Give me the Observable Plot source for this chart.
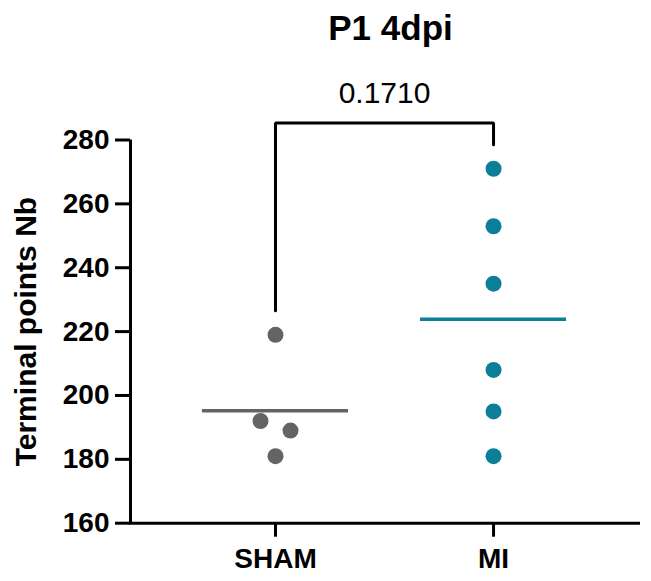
<!DOCTYPE html>
<html>
<head>
<meta charset="utf-8">
<script src="https://cdn.jsdelivr.net/npm/d3@7"></script>
<script src="https://cdn.jsdelivr.net/npm/@observablehq/plot@0.6"></script>
<style>
  html, body { margin: 0; padding: 0; background: #fff; }
  #chart svg { display: block; }
  #chart svg text { font-family: "Liberation Sans", Arial, sans-serif; }
</style>
</head>
<body>
<div id="chart"></div>
<script>
// ---- data ----
const groups = ["SHAM", "MI"];
const colors = ["#646464", "#0a7f97"];
const shamValues = [219, 192, 189, 181];
const miValues = [271, 253, 235, 208, 195, 181];
const yTicks = [160, 180, 200, 220, 240, 260, 280];
const title = "P1 4dpi";
const yLabel = "Terminal points Nb";
const pValue = "0.1710";
const bracketLevel = 285.3;   // top of significance bracket
const bracketLegs = [226.5, 278.5]; // bottom of left / right legs

// ---- derived ----
const series = [shamValues, miValues];
const pxPerUnit = 383.2 / 120;
const dotR = 8;
const collide = (2 * dotR) / pxPerUnit;   // value distance at which dots overlap
const spread = 30 / 218;                  // horizontal spacing for overlapping dots (x units)

const points = [];
series.forEach((vals, gi) => {
  const sorted = [...vals].sort((a, b) => b - a);
  const clusters = [];
  sorted.forEach(v => {
    const last = clusters[clusters.length - 1];
    if (last && last[last.length - 1] - v < collide) last.push(v);
    else clusters.push([v]);
  });
  clusters.forEach(c => {
    c.forEach((v, k) => {
      const off = (k - (c.length - 1) / 2) * spread;
      points.push({group: groups[gi], gi, v, x: gi + off});
    });
  });
});

const means = series.map((vals, gi) => ({group: groups[gi], gi, mean: d3.mean(vals)}));

const bracket = [
  {x: 0, y: bracketLegs[0]},
  {x: 0, y: bracketLevel},
  {x: 1, y: bracketLevel},
  {x: 1, y: bracketLegs[1]}
];

const xDomain = [-0.665, 1.674];
const halfW = 0.335;

const chart = Plot.plot({
  width: 651,
  height: 581,
  marginTop: 139.5,
  marginBottom: 58.3,
  marginLeft: 130,
  marginRight: 11,
  style: {fontFamily: "Liberation Sans, Arial, sans-serif", background: "#fff", color: "#000"},
  x: {domain: xDomain},
  y: {domain: [160, 280]},
  color: {domain: groups, range: colors},
  marks: [
    Plot.axisY({ticks: yTicks, tickSize: 15, tickPadding: 6, strokeWidth: 3, fontSize: 28, fontWeight: "bold", label: null}),
    Plot.axisX({ticks: [0, 1], tickFormat: d => groups[d], tickSize: 14, tickPadding: 11, strokeWidth: 3, fontSize: 28, fontWeight: "bold", label: null}),
    Plot.ruleX([xDomain[0]], {y1: 160, y2: 280, stroke: "#000", strokeWidth: 3}),
    Plot.ruleY([160], {x1: xDomain[0] - 0.005, x2: xDomain[1], stroke: "#000", strokeWidth: 3}),
    Plot.line(bracket, {x: "x", y: "y", stroke: "#000", strokeWidth: 3, strokeLinejoin: "miter", curve: "linear"}),
    Plot.text([pValue], {x: 0.5, y: bracketLevel, text: d => d, dy: -30, fontSize: 30, textAnchor: "middle", lineAnchor: "middle", fill: "#000"}),
    Plot.text([title], {frameAnchor: "top", text: d => d, dx: 5, dy: -111, fontSize: 35, fontWeight: "bold", textAnchor: "middle", lineAnchor: "middle", fill: "#000"}),
    Plot.text([yLabel], {frameAnchor: "left", text: d => d, rotate: -90, dx: -104, fontSize: 30, fontWeight: "bold", textAnchor: "middle", lineAnchor: "middle", fill: "#000"}),
    Plot.ruleY(means, {y: "mean", x1: d => d.gi - halfW, x2: d => d.gi + halfW, stroke: "group", strokeWidth: 3.5}),
    Plot.dot(points, {x: "x", y: "v", r: dotR, fill: "group", stroke: null})
  ]
});
document.getElementById("chart").append(chart);
</script>
</body>
</html>
